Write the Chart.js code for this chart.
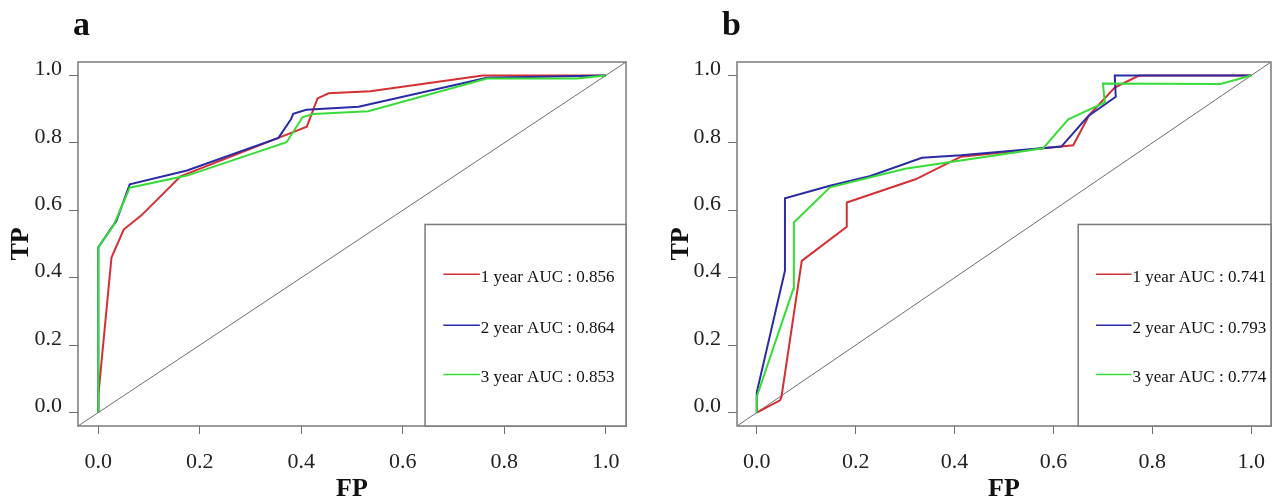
<!DOCTYPE html>
<html lang="en">
<head>
<meta charset="UTF-8" />
<title>ROC curves</title>
<script src="https://cdn.jsdelivr.net/npm/chart.js"></script>
<style>
  body { margin: 0; background: #fff; }
  .row { display: flex; width: 1280px; height: 502px; }
  .panel { position: relative; width: 640px; height: 502px; }
</style>
</head>
<body>
<div class="row">
  <div class="panel"><canvas id="rocA"></canvas></div>
  <div class="panel"><canvas id="rocB"></canvas></div>
</div>

<script>
const tickValues = [0, 0.2, 0.4, 0.6, 0.8, 1.0];
const axisRange = [-0.04, 1.04];
const yearLabels = ["1 year", "2 year", "3 year"];
const aucA = ["0.856", "0.864", "0.853"];
const aucB = ["0.741", "0.793", "0.774"];
const lineColors = ["#d42f33", "#2b2ba6", "#38dc38"];

// panel a
const fpA1 = [0, 0, 0.026, 0.05, 0.085, 0.162, 0.355, 0.411, 0.432, 0.454, 0.536, 0.758, 1];
const tpA1 = [0, 0.05, 0.46, 0.543, 0.585, 0.701, 0.815, 0.848, 0.932, 0.947, 0.953, 1, 1];
const fpA2 = [0, 0, 0.027, 0.035, 0.062, 0.175, 0.355, 0.38, 0.384, 0.41, 0.513, 0.766, 1];
const tpA2 = [0, 0.49, 0.55, 0.566, 0.677, 0.718, 0.815, 0.871, 0.886, 0.898, 0.907, 0.993, 1];
const fpA3 = [0, 0, 0.03, 0.062, 0.175, 0.371, 0.398, 0.402, 0.424, 0.532, 0.766, 0.943, 1];
const tpA3 = [0, 0.49, 0.555, 0.667, 0.703, 0.802, 0.865, 0.876, 0.886, 0.894, 0.991, 0.991, 1];

// panel b
const fpB1 = [0, 0.047, 0.05, 0.091, 0.182, 0.182, 0.321, 0.413, 0.52, 0.64, 0.673, 0.724, 0.773, 1];
const tpB1 = [0, 0.036, 0.047, 0.45, 0.551, 0.623, 0.692, 0.759, 0.775, 0.793, 0.884, 0.964, 1, 1];
const fpB2 = [0, 0, 0.057, 0.057, 0.148, 0.23, 0.334, 0.413, 0.616, 0.67, 0.726, 0.724, 1];
const tpB2 = [0, 0.06, 0.421, 0.636, 0.673, 0.702, 0.756, 0.763, 0.789, 0.879, 0.937, 1, 1];
const fpB3 = [0, 0, 0.074, 0.075, 0.148, 0.3, 0.579, 0.63, 0.704, 0.7, 0.938, 1];
const tpB3 = [0, 0.047, 0.367, 0.564, 0.668, 0.723, 0.784, 0.87, 0.92, 0.976, 0.975, 1];

const serif = "'Liberation Serif', 'DejaVu Serif', serif";

// box, panel letter and legend box drawn on top of the chart
const rocDecor = {
  id: "rocDecor",
  afterDraw(chart, args, opts) {
    const ctx = chart.ctx;
    const area = chart.chartArea;
    const xs = chart.scales.x, ys = chart.scales.y;
    ctx.save();
    ctx.strokeStyle = "#7a7a7a";
    ctx.lineWidth = 1.5;
    ctx.strokeRect(area.left, area.top, area.right - area.left, area.bottom - area.top);

    // legend box
    const lx = xs.getPixelForValue(opts.legendX);
    const ly = ys.getPixelForValue(opts.legendTop);
    ctx.fillStyle = "#fff";
    ctx.fillRect(lx, ly, area.right - lx, area.bottom - ly);
    ctx.strokeRect(lx, ly, area.right - lx, area.bottom - ly);

    const x0 = xs.getPixelForValue(opts.rowX);
    const x1 = xs.getPixelForValue(opts.rowX + 0.072);
    ctx.font = "17px " + serif;
    ctx.textBaseline = "middle";
    ctx.textAlign = "left";
    opts.rows.forEach((v, i) => {
      const y = ys.getPixelForValue(v);
      ctx.strokeStyle = lineColors[i];
      ctx.lineWidth = 1.5;
      ctx.beginPath();
      ctx.moveTo(x0, y);
      ctx.lineTo(x1, y);
      ctx.stroke();
      ctx.fillStyle = "#111";
      ctx.fillText(opts.labels[i], x1 + 1, y + 3);
    });

    // panel letter
    ctx.font = "bold 34px " + serif;
    ctx.fillStyle = "#111";
    ctx.textBaseline = "alphabetic";
    ctx.fillText(opts.letter, opts.letterX, 35);
    ctx.restore();
  }
};

function makeRoc(id, fps, tps, auc, look) {
  const datasets = fps.map((fp, i) => ({
    label: yearLabels[i] + " AUC : " + auc[i],
    data: fp.map((x, k) => ({ x: x, y: tps[i][k] })),
    borderColor: lineColors[i],
    borderWidth: 2,
    pointRadius: 0,
    tension: 0,
    order: 3 - i
  }));
  datasets.push({
    label: "reference",
    data: axisRange.map(v => ({ x: v, y: v })),
    borderColor: "#6e6e6e",
    borderWidth: 1,
    pointRadius: 0,
    order: 4
  });

  const tickFont = { family: serif, size: 22 };
  const titleFont = { family: serif, size: 26, weight: "bold", lineHeight: 1 };

  new Chart(document.getElementById(id), {
    type: "scatter",
    data: { datasets: datasets },
    options: {
      responsive: true,
      maintainAspectRatio: false,
      animation: false,
      showLine: true,
      layout: { padding: { top: 62, right: look.rightPad, left: 0, bottom: 0 } },
      plugins: {
        legend: { display: false },
        tooltip: { enabled: false },
        rocDecor: {
          letter: look.letter,
          letterX: look.letterX,
          legendX: look.legendX,
          legendTop: 0.558,
          rowX: look.legendX + 0.036,
          rows: [0.41, 0.259, 0.113],
          labels: datasets.slice(0, 3).map(d => d.label)
        }
      },
      scales: {
        x: {
          type: "linear",
          min: axisRange[0],
          max: axisRange[1],
          afterBuildTicks: s => { s.ticks = tickValues.map(v => ({ value: v })); },
          afterFit: s => { s.height = 76; s.paddingLeft = 0; s.paddingRight = 0; },
          grid: { drawOnChartArea: false, drawTicks: true, tickLength: 8, color: "#6e6e6e" },
          border: { display: false },
          ticks: { font: tickFont, color: "#222", padding: 15, maxRotation: 0,
                   callback: v => Number(v).toFixed(1) },
          title: { display: true, text: "FP", font: titleFont, color: "#111",
                   padding: { top: 0, bottom: 0 } }
        },
        y: {
          type: "linear",
          min: axisRange[0],
          max: axisRange[1],
          afterBuildTicks: s => { s.ticks = tickValues.map(v => ({ value: v })); },
          afterFit: s => { s.width = look.yWidth; s.paddingTop = 0; s.paddingBottom = 0; },
          grid: { drawOnChartArea: false, drawTicks: true, tickLength: 9, color: "#6e6e6e" },
          border: { display: false },
          ticks: { font: tickFont, color: "#222", padding: 7, labelOffset: -6,
                   callback: v => Number(v).toFixed(1) },
          title: { display: true, text: "TP", font: titleFont, color: "#111",
                   padding: { top: look.titlePad, bottom: 0 } }
        }
      }
    },
    plugins: [rocDecor]
  });
}

makeRoc("rocA", [fpA1, fpA2, fpA3], [tpA1, tpA2, tpA3], aucA,
  { letter: "a", letterX: 73, rightPad: 14, yWidth: 78, titlePad: 8, legendX: 0.644 });
makeRoc("rocB", [fpB1, fpB2, fpB3], [tpB1, tpB2, tpB3], aucB,
  { letter: "b", letterX: 82, rightPad: 9, yWidth: 97, titlePad: 28, legendX: 0.65 });
</script>
</body>
</html>
